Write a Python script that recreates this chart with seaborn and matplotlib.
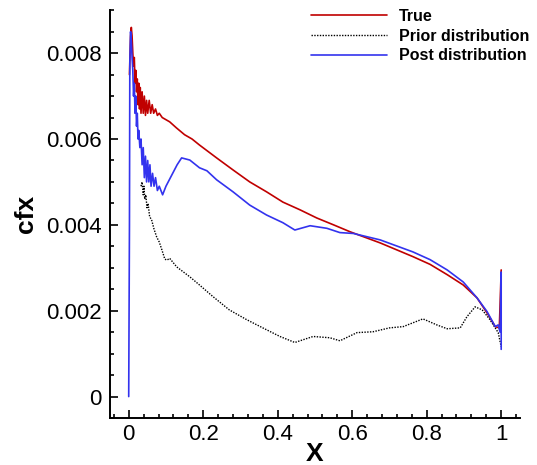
import numpy as np
import pandas as pd
import matplotlib
matplotlib.use("Agg")
import matplotlib.pyplot as plt
from matplotlib.ticker import MultipleLocator, FuncFormatter
import seaborn as sns

# values
true_x = [0.002, 0.005, 0.007, 0.009, 0.011, 0.013, 0.015, 0.017, 0.019, 0.021,
          0.023, 0.025, 0.027, 0.029, 0.031, 0.033, 0.036, 0.039, 0.042, 0.045,
          0.048, 0.051, 0.055, 0.059, 0.063, 0.067, 0.072, 0.077, 0.082, 0.09,
          0.10, 0.11, 0.128, 0.15, 0.17, 0.19, 0.236, 0.28, 0.325, 0.37,
          0.414, 0.46, 0.505, 0.55, 0.594, 0.675, 0.763, 0.809, 0.855, 0.898,
          0.935, 0.962, 0.984, 0.995, 1.0]
true_y = [0.0075, 0.0084, 0.0086, 0.0084, 0.0080, 0.0077, 0.0079, 0.0073, 0.0076, 0.0071,
          0.0074, 0.0068, 0.0073, 0.0067, 0.0072, 0.0066, 0.0071, 0.0066, 0.0070, 0.00655,
          0.0069, 0.0066, 0.0069, 0.0066, 0.0068, 0.0066, 0.0067, 0.00655, 0.0066, 0.0065,
          0.00645, 0.0064, 0.00626, 0.0061, 0.0060, 0.00586, 0.00556, 0.00528, 0.0050, 0.00477,
          0.00453, 0.00435, 0.00416, 0.0040, 0.00384, 0.00358, 0.00326, 0.00308, 0.00284, 0.0026,
          0.0023, 0.00195, 0.00163, 0.0016, 0.00295]

prior_x = [0.033, 0.036, 0.039, 0.041, 0.043, 0.046, 0.049, 0.052, 0.056, 0.062,
           0.068, 0.075, 0.082, 0.089, 0.097, 0.103, 0.11, 0.129, 0.164, 0.19,
           0.226, 0.27, 0.317, 0.36, 0.406, 0.446, 0.495, 0.54, 0.567, 0.613,
           0.656, 0.70, 0.737, 0.79, 0.827, 0.855, 0.89, 0.908, 0.93, 0.949,
           0.97, 0.992, 1.0]
prior_y = [0.0049, 0.0050, 0.0047, 0.0049, 0.0046, 0.0047, 0.0044, 0.0045, 0.0042, 0.0041,
           0.0039, 0.00372, 0.0036, 0.00342, 0.0032, 0.00318, 0.00322, 0.00302, 0.00279, 0.0026,
           0.00233, 0.00202, 0.00179, 0.0016, 0.0014, 0.00126, 0.0014, 0.00137, 0.0013, 0.00149,
           0.00151, 0.0016, 0.00163, 0.00181, 0.00167, 0.00158, 0.0016, 0.00186, 0.00209, 0.00202,
           0.00179, 0.00149, 0.00116]

post_x = [0.0, 0.002, 0.003, 0.005, 0.007, 0.009, 0.011, 0.013, 0.015, 0.017,
          0.019, 0.021, 0.023, 0.025, 0.027, 0.030, 0.033, 0.036, 0.039, 0.042,
          0.045, 0.048, 0.051, 0.054, 0.057, 0.060, 0.064, 0.068, 0.072, 0.077,
          0.082, 0.091, 0.10, 0.118, 0.13, 0.142, 0.164, 0.19, 0.21, 0.236,
          0.28, 0.325, 0.37, 0.414, 0.446, 0.487, 0.532, 0.567, 0.603, 0.675,
          0.763, 0.809, 0.855, 0.898, 0.935, 0.962, 0.984, 0.992, 0.997, 1.0, 1.0]
post_y = [0.0, 0.0040, 0.0078, 0.0085, 0.0083, 0.0079, 0.0076, 0.0070, 0.0073, 0.0066,
          0.0070, 0.0063, 0.0066, 0.0060, 0.0062, 0.0058, 0.0060, 0.0054, 0.0058, 0.0051,
          0.0056, 0.0050, 0.0055, 0.0050, 0.0054, 0.0049, 0.0052, 0.0049, 0.0051, 0.0048,
          0.0049, 0.0047, 0.0049, 0.0052, 0.0054, 0.00556, 0.00551, 0.00533, 0.00526, 0.00505,
          0.00477, 0.00446, 0.00423, 0.00405, 0.00388, 0.00398, 0.00392, 0.00382, 0.0038, 0.00365,
          0.00337, 0.00319, 0.00295, 0.00267, 0.0023, 0.00198, 0.00163, 0.00167, 0.0015, 0.0029, 0.0011]

sns.set_style("ticks", {"xtick.direction": "in", "ytick.direction": "in",
                        "text.color": "black", "axes.labelcolor": "black",
                        "xtick.color": "black", "ytick.color": "black",
                        "axes.edgecolor": "black"})
plt.rcParams["font.family"] = ["Liberation Sans", "DejaVu Sans"]

fig = plt.figure(figsize=(5.37, 4.65), dpi=100)
ax = fig.add_axes([0.205, 0.101, 0.763, 0.877])

sns.lineplot(x=true_x, y=true_y, ax=ax, color="#c00000", lw=1.2,
             sort=False, estimator=None, label="True")
sns.lineplot(x=prior_x, y=prior_y, ax=ax, color="black", lw=1.0,
             linestyle=(0, (1, 1)), sort=False, estimator=None, label="Prior distribution")
sns.lineplot(x=post_x, y=post_y, ax=ax, color="#3333ee", lw=1.2,
             sort=False, estimator=None, label="Post distribution")

ax.set_xlim(-0.05, 1.05)
ax.set_ylim(-0.0005, 0.009)
ax.xaxis.set_major_locator(MultipleLocator(0.2))
ax.xaxis.set_minor_locator(MultipleLocator(0.04))
ax.yaxis.set_major_locator(MultipleLocator(0.002))
ax.yaxis.set_minor_locator(MultipleLocator(0.0005))
ax.xaxis.set_major_formatter(FuncFormatter(lambda v, p: f"{v:g}"))
ax.yaxis.set_major_formatter(FuncFormatter(lambda v, p: "0" if abs(v) < 1e-12 else f"{v:.3f}"))

ax.tick_params(which="both", direction="in", width=1.2, colors="black", labelsize=16)
ax.tick_params(which="major", length=6)
ax.tick_params(which="minor", length=3)
ax.tick_params(axis="y", pad=6)
ax.tick_params(axis="x", pad=4)

for s in ["top", "right"]:
    ax.spines[s].set_visible(False)
for s in ["left", "bottom"]:
    ax.spines[s].set_linewidth(1.4)
    ax.spines[s].set_color("black")

ax.set_xlabel("X", fontsize=19, fontweight="bold", labelpad=-2, color="black")
ax.set_ylabel("cfx", fontsize=19, fontweight="bold", labelpad=6, color="black")

leg = ax.legend(loc="upper right", bbox_to_anchor=(1.013, 1.012), bbox_transform=fig.transFigure,
                frameon=False, handlelength=4.8, labelspacing=0.3, handletextpad=0.75,
                prop={"size": 11.5, "weight": "bold"})
for t in leg.get_texts():
    t.set_color("black")

fig.savefig("out.png", dpi=100)
